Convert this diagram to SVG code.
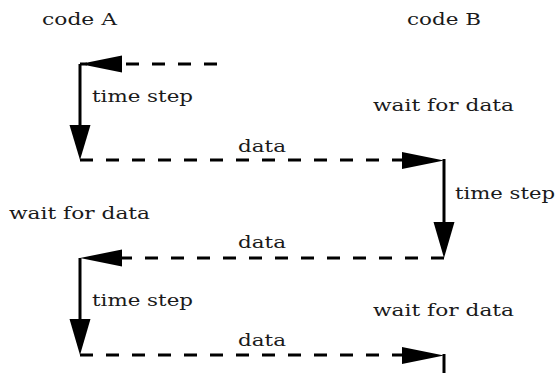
<svg xmlns="http://www.w3.org/2000/svg" width="558" height="373" viewBox="0 0 558 373">
  <style>
    .lbl { font-family: "DejaVu Serif", "Liberation Serif", serif; font-size: 17px; fill: #1a1a1a; }
    .dash { stroke: #000; stroke-width: 3; stroke-dasharray: 13 13; fill: none; }
    .solid { stroke: #000; stroke-width: 3; fill: none; }
    .head { fill: #000; stroke: none; }
  </style>

  <!-- column headings -->
  <g id="codeA">
    <text class="lbl" x="42" y="25" textLength="75" lengthAdjust="spacingAndGlyphs">code A</text>
  </g>
  <g id="codeB">
    <text class="lbl" x="407" y="25" textLength="74" lengthAdjust="spacingAndGlyphs">code B</text>
  </g>

  <!-- step labels -->
  <g id="stepA1">
    <text class="lbl" x="92" y="102" textLength="101" lengthAdjust="spacingAndGlyphs">time step</text>
  </g>
  <g id="waitB1">
    <text class="lbl" x="373" y="111" textLength="141" lengthAdjust="spacingAndGlyphs">wait for data</text>
  </g>
  <g id="data1">
    <text class="lbl" x="238" y="152" textLength="48" lengthAdjust="spacingAndGlyphs">data</text>
  </g>
  <g id="stepB1">
    <text class="lbl" x="455" y="199" textLength="100" lengthAdjust="spacingAndGlyphs">time step</text>
  </g>
  <g id="waitA1">
    <text class="lbl" x="9" y="219" textLength="141" lengthAdjust="spacingAndGlyphs">wait for data</text>
  </g>
  <g id="data2">
    <text class="lbl" x="238" y="248" textLength="48" lengthAdjust="spacingAndGlyphs">data</text>
  </g>
  <g id="stepA2">
    <text class="lbl" x="92" y="306" textLength="101" lengthAdjust="spacingAndGlyphs">time step</text>
  </g>
  <g id="waitB2">
    <text class="lbl" x="373" y="316" textLength="141" lengthAdjust="spacingAndGlyphs">wait for data</text>
  </g>
  <g id="data3">
    <text class="lbl" x="238" y="346" textLength="48" lengthAdjust="spacingAndGlyphs">data</text>
  </g>

  <!-- connectors: dashed = data transfer, solid = time step -->
  <g id="connectors">
    <!-- incoming data to code A -->
    <line class="dash" x1="217" y1="64" x2="80" y2="64"/>
    <polygon class="head" points="80,64 122,55.5 122,72.5"/>

    <!-- code A time step -->
    <line class="solid" x1="80" y1="64" x2="80" y2="130"/>
    <polygon class="head" points="80,160 69.5,125 90.5,125"/>

    <!-- data A to B -->
    <line class="dash" x1="80" y1="160" x2="402" y2="160"/>
    <polygon class="head" points="444,160.5 402,152 402,169"/>

    <!-- code B time step -->
    <line class="solid" x1="444" y1="159" x2="444" y2="226"/>
    <polygon class="head" points="444,258 433.5,222 454.5,222"/>

    <!-- data B to A -->
    <line class="dash" x1="444" y1="258" x2="118" y2="258"/>
    <polygon class="head" points="80,258 122,249.5 122,266.5"/>

    <!-- code A time step -->
    <line class="solid" x1="80" y1="258" x2="80" y2="324"/>
    <polygon class="head" points="80,355 69.5,319 90.5,319"/>

    <!-- data A to B -->
    <line class="dash" x1="80" y1="355" x2="402" y2="355"/>
    <polygon class="head" points="444,355.5 402,347 402,364"/>

    <!-- code B continues -->
    <line class="solid" x1="444" y1="354" x2="444" y2="373"/>
  </g>
</svg>
